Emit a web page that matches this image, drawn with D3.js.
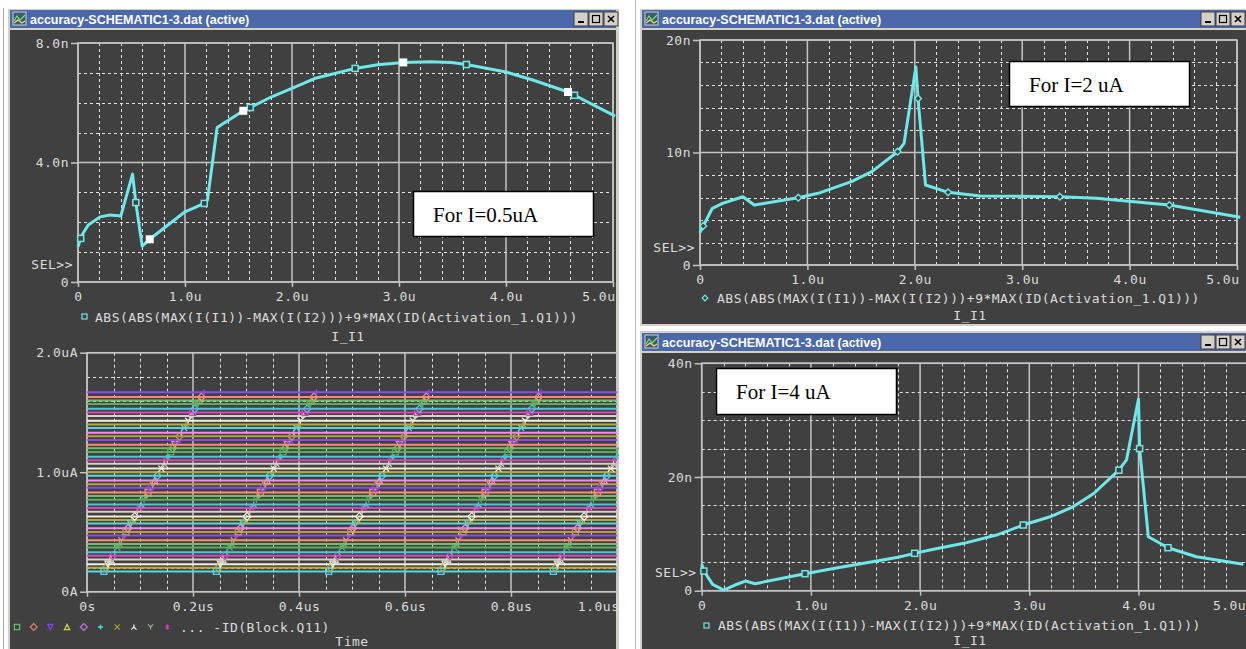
<!DOCTYPE html>
<html>
<head>
<meta charset="utf-8">
<script src="https://cdn.jsdelivr.net/npm/d3@7"></script>
<style>
html,body{margin:0;padding:0;background:#ffffff;}
svg{display:block;}
</style>
</head>
<body>
<svg id="chart" width="1246" height="649"></svg>
<script>
// ================= DATA =================
// Upper-left plot: For I=0.5uA   (I_I1 in u, value in n)
const aX = [0, 0.025, 0.05, 0.096, 0.206, 0.30, 0.40, 0.51, 0.54, 0.60, 0.67, 1.00, 1.18, 1.21, 1.30, 1.545, 1.61, 1.81, 2.07, 2.21, 2.59, 2.80, 3.04, 3.29, 3.49, 3.63, 4.00, 4.25, 4.58, 4.64, 5.02];
const aY = [1.18, 1.46, 1.65, 1.91, 2.18, 2.24, 2.21, 3.61, 2.66, 1.20, 1.43, 2.35, 2.63, 2.74, 5.17, 5.73, 5.84, 6.20, 6.59, 6.81, 7.15, 7.27, 7.35, 7.37, 7.35, 7.28, 7.03, 6.76, 6.36, 6.25, 5.55];
const aHollowMarks = [0.025, 0.54, 1.18, 1.61, 2.59, 3.63, 4.64];
const aFilledMarks = [0.67, 1.545, 3.04, 4.58];
const aXTicks = [0, 1, 2, 3, 4, 5];
const aXLabels = ["0", "1.0u", "2.0u", "3.0u", "4.0u", "5.0u"];
const aYTicks = [0, 4, 8];
const aYLabels = ["0", "4.0n", "8.0n"];

// Upper-right plot: For I=2 uA
const bX = [0, 0.03, 0.115, 0.21, 0.40, 0.505, 0.915, 1.10, 1.41, 1.60, 1.84, 1.90, 2.01, 2.03, 2.10, 2.31, 2.61, 3.35, 3.69, 4.37, 5.03];
const bY = [2.87, 3.47, 5.04, 5.48, 6.07, 5.33, 5.98, 6.37, 7.41, 8.30, 10.07, 10.81, 17.6, 14.8, 7.11, 6.46, 6.13, 6.07, 5.93, 5.33, 4.24];
const bMarks = [0.03, 0.915, 1.84, 2.03, 2.31, 3.35, 4.37];
const bXTicks = [0, 1, 2, 3, 4, 5];
const bXLabels = ["0", "1.0u", "2.0u", "3.0u", "4.0u", "5.0u"];
const bYTicks = [0, 10, 20];
const bYLabels = ["0", "10n", "20n"];

// Lower-right plot: For I=4 uA
const cX = [0, 0.02, 0.10, 0.20, 0.305, 0.40, 0.49, 0.946, 1.22, 1.80, 1.95, 2.09, 2.40, 2.70, 2.945, 3.19, 3.40, 3.59, 3.82, 3.89, 4.00, 4.01, 4.09, 4.27, 4.53, 4.96];
const cY = [4.64, 3.46, 1.12, 0.12, 1.0, 1.7, 1.23, 2.99, 3.94, 5.87, 6.57, 7.15, 8.33, 9.79, 11.55, 13.0, 14.76, 17.1, 21.2, 23.0, 33.7, 25.0, 9.5, 7.56, 5.98, 4.64];
const cMarks = [0.02, 0.946, 1.95, 2.945, 3.82, 4.01, 4.27];
const cXTicks = [0, 1, 2, 3, 4, 5];
const cXLabels = ["0", "1.0u", "2.0u", "3.0u", "4.0u", "5.0u"];
const cYTicks = [0, 20, 40];
const cYLabels = ["0", "20n", "40n"];

// Lower-left plot: -ID(Block.Q11) traces vs Time (us, uA), levels from bottom to top
const dLevels = [0.17, 0.20, 0.23, 0.27, 0.30, 0.33, 0.37, 0.40, 0.43, 0.47, 0.50, 0.53, 0.57, 0.60, 0.63, 0.67,
                 0.70, 0.73, 0.77, 0.80, 0.83, 0.87, 0.90, 0.93, 0.97, 1.00, 1.03, 1.07, 1.10, 1.13, 1.17, 1.20,
                 1.23, 1.27, 1.30, 1.33, 1.37, 1.40, 1.43, 1.47, 1.50, 1.53, 1.57, 1.60, 1.63, 1.67];
const dColors = ["#4fd8e8", "#b8a838", "#f2eee2", "#d8d2c4", "#d448bc", "#4cc8d8", "#5cae5c", "#6cc06c", "#ff8a7a", "#8a4cf0", "#b4a436", "#ff86f4"];
const dDiagStart = [0.032, 0.244, 0.456, 0.668, 0.880];   // time of the marker on the lowest trace
const dDiagEnd   = [0.221, 0.433, 0.645, 0.857, 1.069];   // time of the marker on the highest trace
const dXTicks = [0, 0.2, 0.4, 0.6, 0.8, 1.0];
const dXLabels = ["0s", "0.2us", "0.4us", "0.6us", "0.8us", "1.0us"];
const dYTicks = [0, 1, 2];
const dYLabels = ["0A", "1.0uA", "2.0uA"];
const dLegendColors = ["#60c060", "#d08070", "#8040f0", "#d0d040", "#c070d0", "#40e0e0", "#a0a030", "#e8e8e8", "#90b090", "#e040c0"];
const dLegendShapes = ["square", "diamond", "tridown", "triup", "diamond", "plus", "x", "lambda", "ystar", "dagger"];

// ================= STYLE =================
const MONO = "'DejaVu Sans Mono', monospace";
const TXT = "#dcdcdc";
const BG = "#404040";
const SOLID = "#c4c4c4";
const DASH = "#e4e4e4";
const CURVE = "#6ee8e8";
const LS = 0.5;

const svg = d3.select("#chart");

// ================= WINDOWS =================
function drawWindow(x, y, w, h, titleY, btnX) {
  const g = svg.append("g");
  g.append("rect").attr("x", x).attr("y", y).attr("width", w).attr("height", h).attr("fill", "#d4d0c8");
  g.append("line").attr("x1", x + 0.5).attr("x2", x + 0.5).attr("y1", y).attr("y2", y + h).attr("stroke", "#ffffff");
  g.append("line").attr("x1", x).attr("x2", x + w).attr("y1", y + 0.5).attr("y2", y + 0.5).attr("stroke", "#ffffff");
  g.append("rect").attr("x", x + 3).attr("y", titleY).attr("width", w - 6).attr("height", 18).attr("fill", "#4a68aa");
  g.append("rect").attr("x", x + 3).attr("y", titleY + 20).attr("width", w - 6).attr("height", h - (titleY - y) - 22).attr("fill", BG);
  const ix = x + 6, iy = titleY + 2;
  g.append("rect").attr("x", ix).attr("y", iy).attr("width", 13).attr("height", 13).attr("fill", "#3a5a70").attr("stroke", "#d0d0d0").attr("stroke-width", 1);
  g.append("path").attr("d", `M${ix+1},${iy+9} L${ix+4},${iy+4} L${ix+7},${iy+8} L${ix+12},${iy+3}`).attr("stroke", "#7fe07f").attr("fill", "none").attr("stroke-width", 1.2);
  g.append("path").attr("d", `M${ix+1},${iy+11} L${ix+5},${iy+8} L${ix+9},${iy+11} L${ix+12},${iy+9}`).attr("stroke", "#f0e060").attr("fill", "none").attr("stroke-width", 1.2);
  g.append("text").attr("x", x + 23).attr("y", titleY + 13.5).attr("fill", "#ffffff")
    .attr("font-family", "'Liberation Sans', Arial, sans-serif").attr("font-weight", "bold").attr("font-size", 12.5)
    .text("accuracy-SCHEMATIC1-3.dat (active)");
  ["min", "max", "close"].forEach((b, i) => {
    const bx = btnX + i * 15, by = titleY + 2;
    g.append("rect").attr("x", bx).attr("y", by).attr("width", 14).attr("height", 14).attr("fill", "#d4d0c8")
      .attr("stroke", "#404040").attr("stroke-width", 1);
    if (b === "min") g.append("rect").attr("x", bx + 4).attr("y", by + 9).attr("width", 6).attr("height", 2).attr("fill", "#000");
    if (b === "max") g.append("rect").attr("x", bx + 3.5).attr("y", by + 3.5).attr("width", 7).attr("height", 7).attr("fill", "none").attr("stroke", "#000").attr("stroke-width", 1.2);
    if (b === "close") g.append("path").attr("d", `M${bx+4},${by+4} L${bx+10},${by+10} M${bx+10},${by+4} L${bx+4},${by+10}`).attr("stroke", "#000").attr("stroke-width", 1.6);
  });
  return g;
}

svg.append("line").attr("x1", 3.5).attr("x2", 3.5).attr("y1", 8).attr("y2", 649).attr("stroke", "#a8a8a8");
svg.append("line").attr("x1", 635.5).attr("x2", 635.5).attr("y1", 0).attr("y2", 649).attr("stroke", "#b8b8b8");
drawWindow(7, 8, 612, 650, 10, 574);
drawWindow(639, 8, 612, 318, 10, 1201);
drawWindow(639, 330, 612, 330, 333, 1201);

// ================= PLOT HELPER =================
function drawPlot(p) {
  const x = d3.scaleLinear().domain(p.xDomain).range(p.xRange);
  const y = d3.scaleLinear().domain(p.yDomain).range(p.yRange);
  const g = svg.append("g");
  const [x0, x1] = p.xRange, [y0, y1] = p.yRange;
  const isMaj = (v, arr) => arr.some(t => Math.abs(t - v) < 1e-6);
  const xMinor = d3.range(p.xDomain[0], p.xDomain[1] + 1e-9, p.xStep).filter(v => !isMaj(v, p.xTicks));
  const yMinor = d3.range(p.yDomain[0], p.yDomain[1] + 1e-9, p.yStep).filter(v => !isMaj(v, p.yTicks));
  g.selectAll(null).data(xMinor).join("line")
    .attr("x1", d => Math.round(x(d)) + 0.5).attr("x2", d => Math.round(x(d)) + 0.5).attr("y1", y1).attr("y2", y0)
    .attr("stroke", DASH).attr("stroke-width", 1).attr("stroke-dasharray", "3,3");
  g.selectAll(null).data(yMinor).join("line")
    .attr("y1", d => Math.round(y(d)) + 0.5).attr("y2", d => Math.round(y(d)) + 0.5).attr("x1", x0).attr("x2", x1)
    .attr("stroke", DASH).attr("stroke-width", 1).attr("stroke-dasharray", "3,3");
  g.selectAll(null).data(p.xTicks).join("line")
    .attr("x1", d => x(d)).attr("x2", d => x(d)).attr("y1", y1).attr("y2", y0)
    .attr("stroke", SOLID).attr("stroke-width", 1.5);
  g.selectAll(null).data(p.yTicks).join("line")
    .attr("y1", d => y(d)).attr("y2", d => y(d)).attr("x1", x0).attr("x2", x1)
    .attr("stroke", SOLID).attr("stroke-width", 1.5);
  g.append("rect").attr("x", x0).attr("y", y1).attr("width", x1 - x0).attr("height", y0 - y1)
    .attr("fill", "none").attr("stroke", SOLID).attr("stroke-width", 1.5);

  const xa = g.append("g").attr("transform", `translate(0,${y0})`)
    .call(d3.axisBottom(x).tickValues(p.xTicks).tickFormat((d, i) => p.xLabels[i]).tickSize(5).tickPadding(5));
  const ya = g.append("g").attr("transform", `translate(${x0},0)`)
    .call(d3.axisLeft(y).tickValues(p.yTicks).tickFormat((d, i) => p.yLabels[i]).tickSize(7).tickPadding(2));
  [xa, ya].forEach(a => {
    a.select(".domain").remove();
    a.selectAll("line").attr("stroke", SOLID).attr("stroke-width", 1.5);
    a.selectAll("text").attr("fill", TXT).attr("font-family", MONO).attr("font-size", 13).attr("letter-spacing", LS);
  });
  xa.selectAll(".tick").filter((d, i) => i === p.xTicks.length - 1).select("text")
    .attr("text-anchor", "end").attr("x", p.lastShift);
  if (p.sel) {
    g.append("text").attr("x", x0 - 5).attr("y", y0 - 18).attr("dy", "0.35em").attr("text-anchor", "end")
      .attr("fill", TXT).attr("font-family", MONO).attr("font-size", 13).attr("letter-spacing", LS).text("SEL>>");
  }
  return { x, y, g };
}

function addText(x, y, s, anchor) {
  svg.append("text").attr("x", x).attr("y", y).attr("dy", "0.35em").attr("text-anchor", anchor || "start")
    .attr("fill", TXT).attr("font-family", MONO).attr("font-size", 13).attr("letter-spacing", LS).text(s);
}

function markerPath(shape, s) {
  switch (shape) {
    case "square": return `M${-s},${-s}H${s}V${s}H${-s}Z`;
    case "diamond": return `M0,${-s-0.8}L${s+0.8},0L0,${s+0.8}L${-s-0.8},0Z`;
    case "tridown": return `M${-s},${-s}L${s},${-s}L0,${s}Z`;
    case "triup": return `M${-s},${s}L${s},${s}L0,${-s}Z`;
    case "plus": return `M${-s},0H${s}M0,${-s}V${s}`;
    case "x": return `M${-s},${-s}L${s},${s}M${s},${-s}L${-s},${s}`;
    case "lambda": return `M0,${-s}V0L${-s},${s}M0,0L${s},${s}`;
    case "ystar": return `M${-s},${-s}L0,0L${s},${-s}M0,0V${s}`;
    default: return `M0,${-s}V${s}M${-s*0.7},${-s*0.4}H${s*0.7}M${-s*0.7},${s*0.4}H${s*0.7}`;
  }
}

function textBox(x, y, w, h, label, tx, ty) {
  svg.append("rect").attr("x", x).attr("y", y).attr("width", w).attr("height", h)
    .attr("fill", "#ffffff").attr("stroke", "#000000").attr("stroke-width", 1.5);
  svg.append("text").attr("x", tx).attr("y", ty).attr("fill", "#000")
    .attr("font-family", "'Liberation Serif', 'Times New Roman', serif").attr("font-size", 21).text(label);
}

// ================= PLOT A (upper-left) =================
{
  const P = drawPlot({ xDomain: [0, 5], xRange: [78, 613], yDomain: [0, 8], yRange: [282, 43], lastShift: 2,
    xTicks: aXTicks, xLabels: aXLabels, yTicks: aYTicks, yLabels: aYLabels, xStep: 0.2, yStep: 1, sel: true });
  const pts = aX.map((v, i) => [v, aY[i]]);
  P.g.append("path").datum(pts).attr("fill", "none").attr("stroke", CURVE).attr("stroke-width", 3)
    .attr("stroke-linejoin", "round").attr("d", d3.line().x(d => P.x(d[0])).y(d => P.y(d[1])));
  aHollowMarks.forEach(m => {
    const i = aX.indexOf(m);
    P.g.append("rect").attr("x", P.x(aX[i]) - 3).attr("y", P.y(aY[i]) - 3).attr("width", 6).attr("height", 6)
      .attr("fill", BG).attr("stroke", CURVE).attr("stroke-width", 1.5);
  });
  aFilledMarks.forEach(m => {
    const i = aX.indexOf(m);
    P.g.append("rect").attr("x", P.x(aX[i]) - 4).attr("y", P.y(aY[i]) - 4).attr("width", 8).attr("height", 8)
      .attr("fill", "#ffffff");
  });
  svg.append("rect").attr("x", 82).attr("y", 314).attr("width", 5).attr("height", 5).attr("fill", "none").attr("stroke", CURVE).attr("stroke-width", 1.2);
  addText(95, 317, "ABS(ABS(MAX(I(I1))-MAX(I(I2)))+9*MAX(ID(Activation_1.Q1)))");
  addText(348, 336, "I_I1", "middle");
  textBox(413.5, 191.5, 180, 45, "For I=0.5uA", 433, 222);
}

// ================= PLOT D (lower-left) =================
{
  const P = drawPlot({ xDomain: [0, 1], xRange: [87, 617], yDomain: [0, 2], yRange: [591.7, 352.7], lastShift: 2,
    xTicks: dXTicks, xLabels: dXLabels, yTicks: dYTicks, yLabels: dYLabels, xStep: 0.05, yStep: 0.2, sel: false });
  const lo = dLevels[0], hi = dLevels[dLevels.length - 1];
  dLevels.forEach((v, k) => {
    const col = dColors[k % dColors.length];
    P.g.append("line").attr("x1", P.x(0)).attr("x2", P.x(1)).attr("y1", P.y(v)).attr("y2", P.y(v))
      .attr("stroke", col).attr("stroke-width", 2);
  });
  svg.append("clipPath").attr("id", "clipD").append("rect").attr("x", 87).attr("y", 340).attr("width", 532).attr("height", 260);
  const mg = P.g.append("g").attr("clip-path", "url(#clipD)");
  dLevels.forEach((v, k) => {
    const col = dColors[k % dColors.length];
    const shape = dLegendShapes[k % dLegendShapes.length];
    dDiagStart.forEach((s, j) => {
      const t = s + (v - lo) / (hi - lo) * (dDiagEnd[j] - s);
      mg.append("path").attr("transform", `translate(${P.x(t)},${P.y(v)})`).attr("d", markerPath(shape, 3))
        .attr("fill", "none").attr("stroke", col).attr("stroke-width", 1.3);
    });
  });
  dLegendColors.forEach((c, i) => {
    svg.append("path").attr("transform", `translate(${17 + i * 16.7},627)`).attr("d", markerPath(dLegendShapes[i], 2.6))
      .attr("fill", "none").attr("stroke", c).attr("stroke-width", 1.3);
  });
  addText(180, 627, "... -ID(Block.Q11)");
  addText(352, 641, "Time", "middle");
}

// ================= PLOT B (upper-right) =================
{
  const P = drawPlot({ xDomain: [0, 5], xRange: [700, 1237], yDomain: [0, 20], yRange: [265, 40], lastShift: 2,
    xTicks: bXTicks, xLabels: bXLabels, yTicks: bYTicks, yLabels: bYLabels, xStep: 0.2, yStep: 2, sel: true });
  const pts = bX.map((v, i) => [v, bY[i]]);
  P.g.append("path").datum(pts).attr("fill", "none").attr("stroke", CURVE).attr("stroke-width", 3)
    .attr("stroke-linejoin", "round").attr("d", d3.line().x(d => P.x(d[0])).y(d => P.y(d[1])));
  bMarks.forEach(m => {
    const i = bX.indexOf(m);
    P.g.append("path").attr("transform", `translate(${P.x(bX[i])},${P.y(bY[i])})`).attr("d", markerPath("diamond", 2.6))
      .attr("fill", BG).attr("stroke", CURVE).attr("stroke-width", 1.4);
  });
  svg.append("path").attr("transform", "translate(705,298)").attr("d", markerPath("diamond", 2)).attr("fill", "none").attr("stroke", CURVE).attr("stroke-width", 1.2);
  addText(717, 298, "ABS(ABS(MAX(I(I1))-MAX(I(I2)))+9*MAX(ID(Activation_1.Q1)))");
  addText(970, 315, "I_I1", "middle");
  textBox(1009.5, 61.5, 180, 45, "For I=2 uA", 1029, 92);
}

// ================= PLOT C (lower-right) =================
{
  const P = drawPlot({ xDomain: [0, 5], xRange: [701.7, 1247.7], yDomain: [0, 40], yRange: [590.7, 363.3], lastShift: -2,
    xTicks: cXTicks, xLabels: cXLabels, yTicks: cYTicks, yLabels: cYLabels, xStep: 0.2, yStep: 5, sel: true });
  const pts = cX.map((v, i) => [v, cY[i]]);
  P.g.append("path").datum(pts).attr("fill", "none").attr("stroke", CURVE).attr("stroke-width", 3)
    .attr("stroke-linejoin", "round").attr("d", d3.line().x(d => P.x(d[0])).y(d => P.y(d[1])));
  cMarks.forEach(m => {
    const i = cX.indexOf(m);
    P.g.append("rect").attr("x", P.x(cX[i]) - 3).attr("y", P.y(cY[i]) - 3).attr("width", 6).attr("height", 6)
      .attr("fill", BG).attr("stroke", CURVE).attr("stroke-width", 1.5);
  });
  svg.append("rect").attr("x", 704).attr("y", 623).attr("width", 5).attr("height", 5).attr("fill", "none").attr("stroke", CURVE).attr("stroke-width", 1.2);
  addText(718, 625, "ABS(ABS(MAX(I(I1))-MAX(I(I2)))+9*MAX(ID(Activation_1.Q1)))");
  addText(970, 640, "I_I1", "middle");
  textBox(716.5, 368.5, 180, 46, "For I=4 uA", 736, 399);
}
</script>
</body>
</html>
